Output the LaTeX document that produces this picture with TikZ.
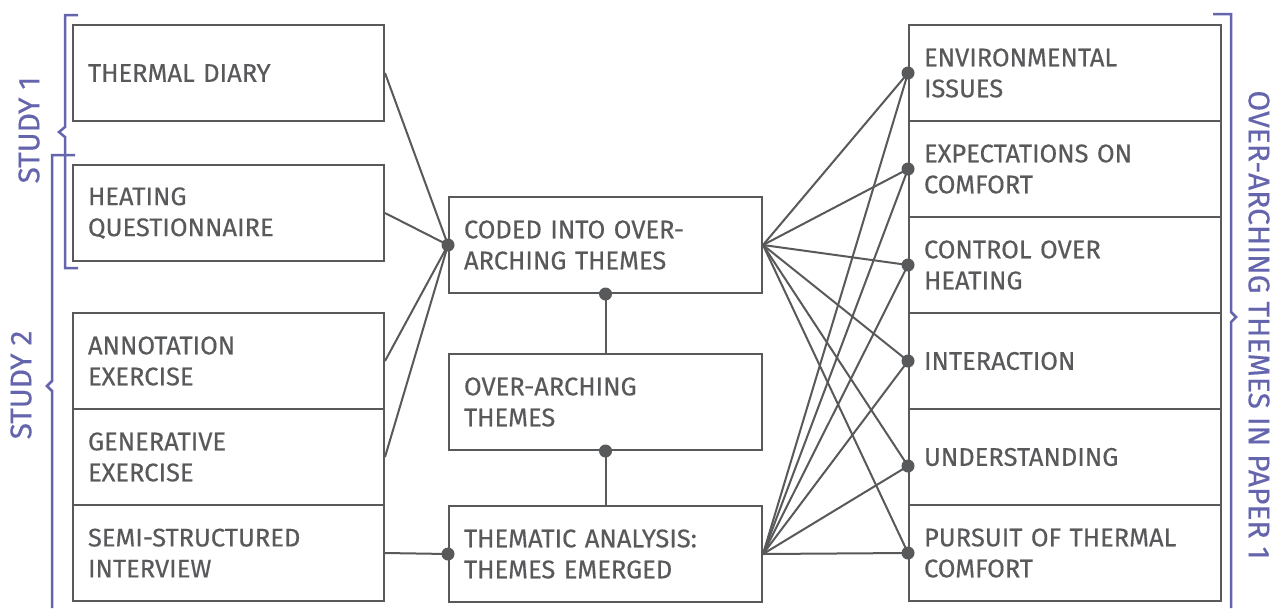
\documentclass[tikz,border=0pt]{standalone}
\usepackage{fontspec}
\setmainfont{Fira Sans}[FakeBold=0.35]
\definecolor{lc}{HTML}{58595B}
\definecolor{pc}{HTML}{6565AD}
\begin{document}
\begin{tikzpicture}[x=1pt,y=-1pt,
 box/.style={draw=lc, line width=2pt, minimum height=96pt, inner xsep=15pt, inner ysep=0pt, align=left, text=lc, font=\fontsize{25.5}{31}\selectfont, anchor=center},
 lbox/.style={box, text width=281pt},
 cbox/.style={box, text width=283pt},
 rbox/.style={box, text width=282pt},
 conn/.style={draw=lc, line width=2pt},
 dot/.style={fill=lc, circle, inner sep=0pt, minimum size=13pt},
 brk/.style={draw=pc, line width=2.5pt},
 lab/.style={text=pc, font=\fontsize{30}{36}\selectfont, inner sep=0pt}
]
\useasboundingbox[fill=white] (0,0) rectangle (1281,608);

% left boxes
\node[lbox] (thermal) at (228.5,73) {THERMAL DIARY};
\node[lbox] (heating) at (228.5,213) {HEATING\\QUESTIONNAIRE};
\node[lbox] (annot) at (228.5,361) {ANNOTATION\\EXERCISE};
\node[lbox] (gener) at (228.5,457) {GENERATIVE\\EXERCISE};
\node[lbox] (semi) at (228.5,553) {SEMI-STRUCTURED\\INTERVIEW};

% centre boxes
\node[cbox] (coded) at (605.5,245) {CODED INTO OVER-\\ARCHING THEMES};
\node[cbox] (over) at (605.5,402) {OVER-ARCHING\\THEMES};
\node[cbox] (thematic) at (605.5,554) {THEMATIC ANALYSIS:\\THEMES EMERGED};

% right boxes
\node[rbox] (env) at (1065,73) {ENVIRONMENTAL\\ISSUES};
\node[rbox] (expc) at (1065,169) {EXPECTATIONS ON\\COMFORT};
\node[rbox] (ctrl) at (1065,265) {CONTROL OVER\\HEATING};
\node[rbox] (inter) at (1065,361) {INTERACTION};
\node[rbox] (und) at (1065,457) {UNDERSTANDING};
\node[rbox] (purs) at (1065,553) {PURSUIT OF THERMAL\\COMFORT};
\coordinate (undp) at ([yshift=-9pt]und.west);

% left connectors
\draw[conn] (thermal.east) -- (coded.west);
\draw[conn] (heating.east) -- (coded.west);
\draw[conn] (annot.east) -- (coded.west);
\draw[conn] (gener.east) -- (coded.west);
\draw[conn] (semi.east) -- (thematic.west);

% centre verticals
\draw[conn] (coded.south) -- (over.north);
\draw[conn] (over.south) -- (thematic.north);

% right connectors
\foreach \r in {env.west,expc.west,ctrl.west,inter.west,undp,purs.west}{
  \draw[conn] (coded.east) -- (\r);
  \draw[conn] (thematic.east) -- (\r);
}

% dots
\foreach \d in {coded.west,thematic.west,coded.south,over.south,env.west,expc.west,ctrl.west,inter.west,undp,purs.west}{
  \node[dot] at (\d) {};
}

% brackets
\draw[brk] (78,15) -- (65,15) -- (65,127) -- (59,132) -- (65,137) -- (65,268) -- (78,268);
\draw[brk] (75,155) -- (52,155) -- (52,381) -- (47,386) -- (52,391) -- (52,608);
\draw[brk] (1213,14) -- (1231,14) -- (1231,312) -- (1236,317) -- (1231,322) -- (1231,608);

\node[lab, rotate=90] (s1) at (29,130) {STUDY 1};
\node[lab, rotate=90] (s2) at (21,385) {STUDY 2};
\node[lab, rotate=-90] (op) at (1259,325) {OVER-ARCHING THEMES IN PAPER 1};
\end{tikzpicture}
\end{document}
